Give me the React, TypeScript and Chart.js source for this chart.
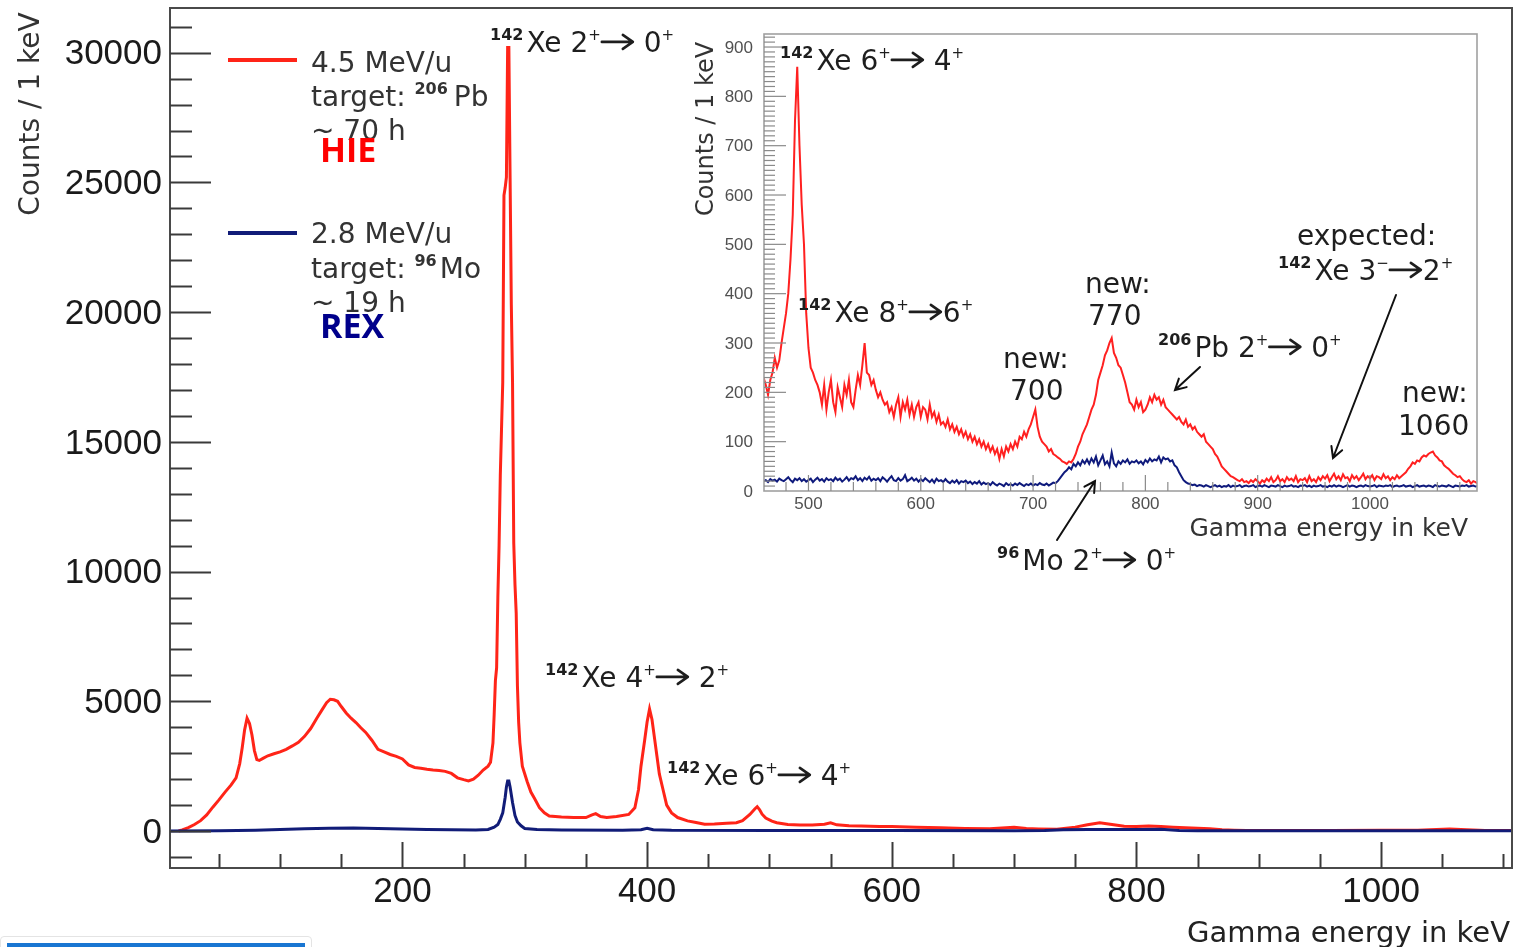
import React, { useEffect, useRef } from "react";
import { Chart, registerables } from "chart.js";
Chart.register(...registerables);

// ---------------- data ----------------
// Main spectrum, HIE (4.5 MeV/u, 206Pb target): energy (keV) / counts per keV
const hieMainEnergy = [
  17, 20, 25, 30, 35, 40, 45, 50, 55, 60,
  64, 67, 69, 71, 73, 75, 77, 79, 81, 83,
  86, 90, 95, 100, 105, 110, 115, 120, 125, 130,
  134, 138, 141, 144, 147, 150, 154, 158, 162, 166,
  170, 175, 180, 185, 190, 195, 200, 205, 210, 215,
  220, 225, 230, 235, 240, 245, 250, 254, 258, 262,
  266, 270, 272, 274, 275, 276, 277, 278, 279, 280,
  281, 282, 283, 284, 285, 286, 287, 288, 289, 290,
  291, 292, 293, 294, 295, 296, 298, 300, 302, 305,
  308, 312, 316, 320, 330, 340, 350, 355, 358, 362,
  367, 375, 385, 390, 393, 395, 398, 400, 402, 404,
  406, 408, 410, 413, 416, 420, 425, 433, 440, 447,
  455, 465, 473, 478, 484, 488, 490, 492, 494, 497,
  502, 506, 515, 525, 535, 545, 550, 555, 565, 575,
  590, 600, 620, 640, 660, 680, 700, 710, 720, 735,
  750, 760, 770, 780, 790, 800, 810, 820, 830, 840,
  850, 860, 870, 880, 890, 920, 960, 1000, 1030, 1040,
  1056, 1070, 1085, 1107,
];
const hieMainCounts = [
  0, 40, 130, 250, 400, 620, 920, 1200, 1500, 1780,
  2050, 2600, 3200, 3900, 4350, 4150, 3700, 3100, 2750, 2720,
  2800, 2900, 2980, 3050, 3150, 3280, 3420, 3650, 3950, 4350,
  4650, 4950, 5080, 5060, 5000, 4800, 4550, 4350, 4180, 3980,
  3800, 3500, 3150, 3050, 2950, 2880, 2780, 2550, 2450, 2420,
  2380, 2350, 2330, 2300, 2220, 2050, 1980, 1930, 2000, 2150,
  2350, 2500, 2650, 3400, 4500, 5800, 6300, 9000, 11000, 13700,
  15500, 17300, 24500, 24800, 25200, 30200, 30200, 25200, 20300, 17300,
  11100, 9500, 8400, 5600, 4200, 3400, 2500, 2200, 1900, 1500,
  1250, 900, 700, 580, 540, 520, 520, 620, 670, 560,
  520, 560, 640, 900, 1600, 2500, 3500, 4200, 4700, 4300,
  3600, 2900, 2200, 1600, 1000, 700, 520, 390, 330, 260,
  270, 300, 320, 400, 640, 850, 940, 820, 650, 500,
  380, 320, 250, 230, 230, 260, 320, 240, 200, 190,
  170, 170, 150, 130, 100, 90, 150, 100, 80, 65,
  150, 240, 320, 250, 180, 170, 190, 170, 150, 130,
  110, 90, 50, 30, 20, 25, 25, 28, 30, 50,
  80, 45, 20, 20,
];
// Main spectrum, REX (2.8 MeV/u, 96Mo target)
const rexMainEnergy = [
  10, 50, 80, 100, 120, 140, 160, 180, 200, 220,
  240, 260, 270, 275, 278, 280, 282, 284, 285, 286,
  287, 288, 289, 290, 292, 294, 297, 300, 310, 330,
  380, 395, 400, 405, 420, 500, 600, 700, 725, 740,
  760, 780, 800, 820, 835, 850, 1107,
];
const rexMainCounts = [
  0, 10, 30, 60, 90, 110, 120, 100, 80, 60,
  50, 40, 60, 150, 250, 450, 700, 1300, 1700, 1930,
  1930, 1700, 1400, 1100, 600, 350, 200, 100, 60, 40,
  30, 50, 110, 50, 30, 20, 20, 15, 20, 50,
  60, 60, 60, 65, 20, 10, 10,
];

// Inset spectrum: 2 keV bins starting at 460 keV
const insetBinStart = 460;
const insetBinWidth = 2;
const hieInsetCounts = [
  /*460*/ 230, 215, 195, 225, 240,
  /*470*/ 270, 250, 265, 300, 330,
  /*480*/ 360, 400, 470, 560, 750,
  /*490*/ 860, 700, 580, 500, 360,
  /*500*/ 290, 250, 240, 225, 215,
  /*510*/ 200, 175, 215, 165, 200,
  /*520*/ 225, 180, 160, 210, 190,
  /*530*/ 170, 215, 195, 225, 180,
  /*540*/ 170, 205, 235, 215, 255,
  /*550*/ 300, 240, 235, 215, 225,
  /*560*/ 205, 190, 200, 185, 175,
  /*570*/ 180, 160, 170, 150, 175,
  /*580*/ 190, 150, 180, 165, 185,
  /*590*/ 155, 175, 150, 170, 180,
  /*600*/ 150, 170, 165, 145, 175,
  /*610*/ 150, 160, 140, 155, 135,
  /*620*/ 140, 130, 145, 125, 135,
  /*630*/ 120, 130, 115, 125, 110,
  /*640*/ 120, 105, 115, 100, 110,
  /*650*/ 95, 105, 90, 100, 85,
  /*660*/ 95, 80, 90, 75, 85,
  /*670*/ 65, 85, 70, 90, 80,
  /*680*/ 95, 85, 100, 90, 110,
  /*690*/ 105, 120, 110, 125, 135,
  /*700*/ 150, 165, 130, 110, 100,
  /*710*/ 95, 90, 80, 85, 75,
  /*720*/ 72, 68, 65, 60, 58,
  /*730*/ 55, 60, 58, 65, 75,
  /*740*/ 90, 100, 115, 125, 135,
  /*750*/ 150, 165, 175, 195, 225,
  /*760*/ 240, 255, 275, 285, 300,
  /*770*/ 310, 280, 270, 255, 250,
  /*780*/ 235, 220, 200, 180, 175,
  /*790*/ 165, 185, 170, 180, 160,
  /*800*/ 165, 175, 190, 180, 195,
  /*810*/ 185, 190, 175, 185, 170,
  /*820*/ 165, 160, 155, 150, 145,
  /*830*/ 150, 140, 135, 145, 130,
  /*840*/ 135, 125, 130, 120, 115,
  /*850*/ 110, 115, 100, 95, 90,
  /*860*/ 85, 75, 70, 60, 50,
  /*870*/ 45, 40, 35, 30, 28,
  /*880*/ 25, 22, 20, 24, 18,
  /*890*/ 20, 16, 22, 18, 24,
  /*900*/ 20, 15, 22, 18, 25,
  /*910*/ 20, 28, 18, 22, 30,
  /*920*/ 20, 24, 18, 28, 22,
  /*930*/ 25, 20, 30, 18, 24,
  /*940*/ 22, 26, 18, 30, 20,
  /*950*/ 24, 18, 28, 22, 30,
  /*960*/ 25, 32, 20, 28, 35,
  /*970*/ 24, 30, 22, 34, 26,
  /*980*/ 28, 20, 32, 25, 30,
  /*990*/ 22, 28, 35, 24, 30,
  /*1000*/ 26, 32, 22, 30, 28,
  /*1010*/ 24, 34, 26, 30, 22,
  /*1020*/ 28, 24, 32, 26, 30,
  /*1030*/ 34, 38, 45, 50, 58,
  /*1040*/ 55, 62, 60, 68, 72,
  /*1050*/ 70, 75, 78, 80, 72,
  /*1060*/ 68, 62, 60, 52, 48,
  /*1070*/ 45, 40, 35, 32, 28,
  /*1080*/ 30, 24, 20, 18, 22,
  /*1090*/ 15, 20, 18, 15,
];
const rexInsetCounts = [
  /*460*/ 20, 22, 18, 24, 21,
  /*470*/ 23, 19, 25, 22, 20,
  /*480*/ 24, 28, 22, 18, 25,
  /*490*/ 22, 26, 20, 24, 19,
  /*500*/ 22, 25, 18, 23, 27,
  /*510*/ 21, 24, 19, 26, 22,
  /*520*/ 24, 20, 27, 22, 25,
  /*530*/ 19, 23, 28, 21, 26,
  /*540*/ 24, 30, 22, 26, 20,
  /*550*/ 27, 23, 29, 21, 25,
  /*560*/ 22, 26, 20, 28, 24,
  /*570*/ 19, 25, 30, 22, 20,
  /*580*/ 26, 21, 24, 32, 20,
  /*590*/ 23, 27, 21, 25, 19,
  /*600*/ 24, 20, 26, 22, 18,
  /*610*/ 23, 17, 25, 20, 22,
  /*620*/ 18, 24, 19, 16, 21,
  /*630*/ 17, 22, 15, 20, 18,
  /*640*/ 21, 16, 19, 14, 18,
  /*650*/ 15, 20, 13, 17, 14,
  /*660*/ 16, 12, 18, 14, 11,
  /*670*/ 15, 13, 10, 16, 12,
  /*680*/ 14, 11, 15, 12, 16,
  /*690*/ 13, 10, 14, 12, 15,
  /*700*/ 11, 14, 12, 16, 13,
  /*710*/ 12, 15, 11, 14, 17,
  /*720*/ 16, 20, 26, 32, 38,
  /*730*/ 42, 48, 44, 55, 50,
  /*740*/ 58, 52, 62, 56, 64,
  /*750*/ 55, 66, 58, 70, 52,
  /*760*/ 62, 72, 54, 60, 50,
  /*770*/ 78, 56, 50, 60, 55,
  /*780*/ 62, 58, 64, 55, 60,
  /*790*/ 58, 62, 56, 60, 54,
  /*800*/ 63, 58, 66, 60, 64,
  /*810*/ 62, 70, 58, 68, 64,
  /*820*/ 66, 60, 62, 52, 48,
  /*830*/ 38, 30, 22, 18, 15,
  /*840*/ 14, 12, 13, 10, 12,
  /*850*/ 11, 9, 12, 10, 8,
  /*860*/ 10, 12, 9, 11, 8,
  /*870*/ 10, 9, 12, 8, 11,
  /*880*/ 9, 10, 12, 8, 10,
  /*890*/ 11, 9, 10, 12, 8,
  /*900*/ 10, 11, 9, 12, 10,
  /*910*/ 8, 11, 10, 9, 12,
  /*920*/ 10, 8, 11, 9, 10,
  /*930*/ 12, 9, 10, 8, 11,
  /*940*/ 10, 12, 9, 11, 8,
  /*950*/ 11, 9, 10, 12, 9,
  /*960*/ 10, 8, 11, 9, 12,
  /*970*/ 9, 11, 10, 8, 10,
  /*980*/ 12, 9, 11, 10, 8,
  /*990*/ 10, 11, 9, 12, 10,
  /*1000*/ 9, 10, 12, 8, 11,
  /*1010*/ 10, 9, 11, 10, 12,
  /*1020*/ 8, 10, 11, 9, 10,
  /*1030*/ 12, 9, 10, 11, 8,
  /*1040*/ 10, 12, 9, 10, 11,
  /*1050*/ 9, 11, 10, 8, 12,
  /*1060*/ 10, 9, 11, 10, 9,
  /*1070*/ 12, 10, 8, 11, 10,
  /*1080*/ 9, 11, 10, 12, 9,
  /*1090*/ 10, 11, 9, 10,
];

const mainXTicks = [200, 400, 600, 800, 1000];
const mainYTicks = [0, 5000, 10000, 15000, 20000, 25000, 30000];
const insetXTicks = [500, 600, 700, 800, 900, 1000];
const insetYTicks = [0, 100, 200, 300, 400, 500, 600, 700, 800, 900];

// ---------------- styles ----------------
const RED = "#ff2418";
const NAVY = "#111c78";
const TXT = "#1e1e1e";
const DV = '"DejaVu Sans"';
const LS = '"Liberation Sans"';
const INSET_LEFT = 680;
const INSET_TOP = 20;

type Part = [string, string];

function drawRich(ctx: CanvasRenderingContext2D, x: number, y: number, parts: Part[], size = 28, color = TXT) {
  ctx.save();
  ctx.fillStyle = color;
  ctx.strokeStyle = color;
  ctx.textAlign = "left";
  ctx.textBaseline = "alphabetic";
  let cx = x;
  for (const [k, t] of parts) {
    if (k === "b") {
      ctx.font = `bold ${Math.round(size * 0.58)}px ${DV}`;
      ctx.fillText(t, cx, y - size * 0.43);
      cx += ctx.measureText(t).width + 3;
    } else if (k === "s") {
      ctx.font = `${Math.round(size * 0.55)}px ${DV}`;
      ctx.fillText(t, cx, y - size * 0.42);
      cx += ctx.measureText(t).width;
    } else if (k === "a") {
      const ay = y - size * 0.36;
      ctx.lineWidth = 2.6;
      ctx.lineCap = "round";
      ctx.lineJoin = "round";
      ctx.beginPath();
      ctx.moveTo(cx + 1, ay);
      ctx.lineTo(cx + 31, ay);
      ctx.moveTo(cx + 22, ay - 7);
      ctx.lineTo(cx + 32, ay);
      ctx.lineTo(cx + 22, ay + 7);
      ctx.stroke();
      cx += 34;
    } else if (k === "g") {
      cx += Number(t);
    } else {
      ctx.font = `${size}px ${DV}`;
      ctx.fillText(t, cx, y);
      cx += ctx.measureText(t).width;
    }
  }
  ctx.restore();
}

function arrowLine(ctx: CanvasRenderingContext2D, x1: number, y1: number, x2: number, y2: number, head = 12) {
  ctx.save();
  ctx.strokeStyle = "#111";
  ctx.lineWidth = 2;
  ctx.lineCap = "round";
  ctx.beginPath();
  ctx.moveTo(x1, y1);
  ctx.lineTo(x2, y2);
  const a = Math.atan2(y2 - y1, x2 - x1);
  ctx.moveTo(x2 - head * Math.cos(a - 0.5), y2 - head * Math.sin(a - 0.5));
  ctx.lineTo(x2, y2);
  ctx.lineTo(x2 - head * Math.cos(a + 0.5), y2 - head * Math.sin(a + 0.5));
  ctx.stroke();
  ctx.restore();
}

function text(ctx: CanvasRenderingContext2D, s: string, x: number, y: number, font: string, color = TXT, align: CanvasTextAlign = "left") {
  ctx.save();
  ctx.font = font;
  ctx.fillStyle = color;
  ctx.textAlign = align;
  ctx.textBaseline = "alphabetic";
  ctx.fillText(s, x, y);
  ctx.restore();
}

const xeLabel = (a: string, b: string, spaced = true): Part[] => [
  ["b", "142"], ["t", "Xe " + a], ["s", "+"], ["a", ""], ["t", spaced ? " " + b : b], ["s", "+"],
];

// ---------------- main chart plugin ----------------
const mainDecor = {
  id: "mainDecor",
  afterDraw(chart: any) {
    const { ctx, chartArea: a, scales } = chart;
    const xs = scales.x, ys = scales.y;
    ctx.save();
    // frame
    ctx.strokeStyle = "#4a4a4a";
    ctx.lineWidth = 2;
    ctx.strokeRect(a.left, a.top, a.right - a.left, a.bottom - a.top);
    // y ticks
    ctx.strokeStyle = "#3a3a3a";
    ctx.lineWidth = 2;
    for (let v = -1000; v <= 31000; v += 1000) {
      const py = Math.round(ys.getPixelForValue(v)) + 0.5;
      const len = v % 5000 === 0 ? 41 : 22;
      ctx.beginPath(); ctx.moveTo(a.left, py); ctx.lineTo(a.left + len, py); ctx.stroke();
    }
    // x ticks
    for (let v = 50; v <= 1100; v += 50) {
      const px = Math.round(xs.getPixelForValue(v)) + 0.5;
      const len = v % 200 === 0 ? 26 : 14;
      ctx.beginPath(); ctx.moveTo(px, a.bottom); ctx.lineTo(px, a.bottom - len); ctx.stroke();
    }
    // tick labels
    ctx.fillStyle = "#1a1a1a";
    ctx.font = `35px ${LS}`;
    ctx.textAlign = "right";
    ctx.textBaseline = "middle";
    for (const v of mainYTicks) ctx.fillText(String(v), a.left - 8, ys.getPixelForValue(v) + 2);
    ctx.textAlign = "center";
    for (const v of mainXTicks) ctx.fillText(String(v), xs.getPixelForValue(v), a.bottom + 24);
    // axis titles
    text(ctx, "Gamma energy in keV", 1510, 942, `29px ${DV}`, "#222", "right");
    ctx.save();
    ctx.translate(39, 114);
    ctx.rotate(-Math.PI / 2);
    text(ctx, "Counts / 1 keV", 0, 0, `28px ${DV}`, "#333", "center");
    ctx.restore();
    // legend
    ctx.lineWidth = 4;
    ctx.strokeStyle = RED;
    ctx.beginPath(); ctx.moveTo(228, 60); ctx.lineTo(297, 60); ctx.stroke();
    ctx.strokeStyle = NAVY;
    ctx.beginPath(); ctx.moveTo(228, 233); ctx.lineTo(297, 233); ctx.stroke();
    const lf = `28px ${DV}`;
    text(ctx, "4.5 MeV/u", 311, 72, lf, "#333");
    drawRich(ctx, 311, 106, [["t", "target: "], ["b", "206"], ["g", "3"], ["t", "Pb"]], 28, "#333");
    text(ctx, "~ 70 h", 311, 140, lf, "#333");
    text(ctx, "HIE", 320, 162, `bold 34px "Open Sans"`, "#ff0000");
    text(ctx, "2.8 MeV/u", 311, 243, lf, "#333");
    drawRich(ctx, 311, 278, [["t", "target: "], ["b", "96"], ["t", "Mo"]], 28, "#333");
    text(ctx, "~ 19 h", 311, 312, lf, "#333");
    text(ctx, "REX", 320, 338, `bold 34px "Open Sans"`, "#00008b");
    // peak labels
    drawRich(ctx, 490, 52, xeLabel("2", "0"));
    drawRich(ctx, 545, 687, xeLabel("4", "2"));
    drawRich(ctx, 667, 785, xeLabel("6", "4"));
    ctx.restore();
  },
};

// ---------------- inset chart plugin ----------------
const insetDecor = {
  id: "insetDecor",
  beforeDatasetsDraw(chart: any) {
    const { ctx, chartArea: a } = chart;
    ctx.save();
    ctx.fillStyle = "#ffffff";
    ctx.fillRect(a.left, a.top, a.right - a.left, a.bottom - a.top);
    ctx.restore();
  },
  afterDraw(chart: any) {
    const { ctx, chartArea: a, scales } = chart;
    const xs = scales.x, ys = scales.y;
    ctx.save();
    // frame
    ctx.strokeStyle = "#a0a0a0";
    ctx.lineWidth = 1.6;
    ctx.strokeRect(a.left, a.top, a.right - a.left, a.bottom - a.top);
    // y ticks
    ctx.strokeStyle = "#8a8a8a";
    ctx.lineWidth = 1.2;
    for (let v = 10; v <= 920; v += 10) {
      const py = ys.getPixelForValue(v);
      const len = v % 100 === 0 ? 22 : 11;
      ctx.beginPath(); ctx.moveTo(a.left, py); ctx.lineTo(a.left + len, py); ctx.stroke();
    }
    // x ticks
    for (let v = 480; v <= 1080; v += 20) {
      const px = xs.getPixelForValue(v);
      const len = v % 100 === 0 ? 16 : 9;
      ctx.beginPath(); ctx.moveTo(px, a.bottom); ctx.lineTo(px, a.bottom - len); ctx.stroke();
    }
    // labels
    ctx.fillStyle = "#505050";
    ctx.font = `17px ${LS}`;
    ctx.textAlign = "right";
    ctx.textBaseline = "middle";
    for (const v of insetYTicks) ctx.fillText(String(v), a.left - 11, ys.getPixelForValue(v) + 1);
    ctx.textAlign = "center";
    for (const v of insetXTicks) ctx.fillText(String(v), xs.getPixelForValue(v), a.bottom + 13);

    // everything below in page coordinates
    ctx.translate(-INSET_LEFT, -INSET_TOP);
    text(ctx, "Gamma energy in keV", 1468, 536, `25px ${DV}`, "#333", "right");
    ctx.save();
    ctx.translate(713, 129);
    ctx.rotate(-Math.PI / 2);
    text(ctx, "Counts / 1 keV", 0, 0, `24px ${DV}`, "#333", "center");
    ctx.restore();

    const f = `28px ${DV}`;
    drawRich(ctx, 780, 70, xeLabel("6", "4"));
    drawRich(ctx, 798, 322, xeLabel("8", "6", false));
    text(ctx, "new:", 1003, 368, f);
    text(ctx, "700", 1010, 400, f);
    text(ctx, "new:", 1085, 293, f);
    text(ctx, "770", 1088, 325, f);
    drawRich(ctx, 1158, 357, [["b", "206"], ["t", "Pb 2"], ["s", "+"], ["a", ""], ["t", " 0"], ["s", "+"]]);
    arrowLine(ctx, 1200, 367, 1175, 390);
    text(ctx, "expected:", 1297, 245, f);
    drawRich(ctx, 1278, 280, [["b", "142"], ["t", "Xe 3"], ["s", "\u2212"], ["a", ""], ["t", "2"], ["s", "+"]]);
    arrowLine(ctx, 1396, 295, 1333, 458);
    text(ctx, "new:", 1402, 402, f);
    text(ctx, "1060", 1398, 435, f);
    drawRich(ctx, 997, 570, [["b", "96"], ["t", "Mo 2"], ["s", "+"], ["a", ""], ["t", " 0"], ["s", "+"]]);
    arrowLine(ctx, 1057, 540, 1095, 481);
    ctx.restore();
  },
};

function MainChart() {
  const ref = useRef<HTMLCanvasElement>(null);
  useEffect(() => {
    const canvas = ref.current!;
    const chart = new Chart(canvas, {
      type: "line",
      data: {
        datasets: [
          {
            data: rexMainEnergy.map((e, i) => ({ x: e, y: rexMainCounts[i] })),
            borderColor: NAVY, borderWidth: 3, pointRadius: 0, tension: 0, fill: false,
          },
          {
            data: hieMainEnergy.map((e, i) => ({ x: e, y: hieMainCounts[i] })),
            borderColor: RED, borderWidth: 3, pointRadius: 0, tension: 0, fill: false,
          },
        ],
      } as any,
      options: {
        responsive: false,
        animation: false,
        devicePixelRatio: 1,
        events: [],
        layout: { padding: { top: 8, right: 8, left: 0, bottom: 0 } },
        plugins: { legend: { display: false }, tooltip: { enabled: false } },
        scales: {
          x: {
            type: "linear", min: 10, max: 1107,
            ticks: { display: false }, grid: { display: false }, border: { display: false },
            afterFit: (s: any) => { s.height = 79; },
          },
          y: {
            type: "linear", min: -1425, max: 31722,
            ticks: { display: false }, grid: { display: false }, border: { display: false },
            afterFit: (s: any) => { s.width = 170; },
          },
        },
      } as any,
      plugins: [mainDecor],
    });
    return () => chart.destroy();
  }, []);
  return <canvas ref={ref} width={1520} height={947} style={{ position: "absolute", left: 0, top: 0 }} />;
}

function InsetChart() {
  const ref = useRef<HTMLCanvasElement>(null);
  useEffect(() => {
    const canvas = ref.current!;
    const binE = (i: number) => insetBinStart + i * insetBinWidth;
    const chart = new Chart(canvas, {
      type: "line",
      data: {
        datasets: [
          {
            data: rexInsetCounts.map((c, i) => ({ x: binE(i), y: c })),
            borderColor: "#0f1a7c", borderWidth: 2, pointRadius: 0, tension: 0, fill: false,
          },
          {
            data: hieInsetCounts.map((c, i) => ({ x: binE(i), y: c })),
            borderColor: "#ff2020", borderWidth: 2, pointRadius: 0, tension: 0, fill: false,
          },
        ],
      } as any,
      options: {
        responsive: false,
        animation: false,
        devicePixelRatio: 1,
        events: [],
        layout: { padding: { top: 14, right: 13, left: 0, bottom: 0 } },
        plugins: { legend: { display: false }, tooltip: { enabled: false } },
        scales: {
          x: {
            type: "linear", min: 460.4, max: 1095.3,
            ticks: { display: false }, grid: { display: false }, border: { display: false },
            afterFit: (s: any) => { s.height = 89; },
          },
          y: {
            type: "linear", min: 0, max: 926.4,
            ticks: { display: false }, grid: { display: false }, border: { display: false },
            afterFit: (s: any) => { s.width = 84; },
          },
        },
      } as any,
      plugins: [insetDecor],
    });
    return () => chart.destroy();
  }, []);
  return (
    <canvas
      ref={ref}
      width={810}
      height={560}
      style={{ position: "absolute", left: INSET_LEFT, top: INSET_TOP }}
    />
  );
}

export default function App() {
  return (
    <div
      style={{
        position: "fixed", left: 0, top: 0, width: 1520, height: 947,
        background: "#ffffff", overflow: "hidden",
      }}
    >
      <MainChart />
      <InsetChart />
      <div
        style={{
          position: "absolute", left: 0, top: 936, width: 312, height: 16,
          border: "1px solid #e4e4e4", borderRadius: 4, background: "#fff", boxSizing: "border-box",
        }}
      />
      <div style={{ position: "absolute", left: 7, top: 943, width: 298, height: 6, background: "#1976d2" }} />
    </div>
  );
}
